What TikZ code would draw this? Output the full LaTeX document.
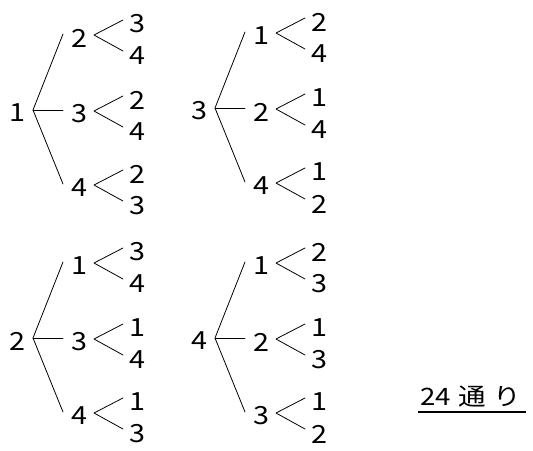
\documentclass[tikz,border=0pt]{standalone}
\usepackage{fontspec}
\setmainfont{Noto Sans CJK JP}[FakeStretch=1.15]
\usetikzlibrary{calc}
\tikzset{
  num/.style={inner sep=0pt, font=\fontsize{25}{25}\selectfont},
  br/.style={line width=0.8pt, line cap=round, line join=round}
}
% #1 name, #2 position, #3 label, #4 top leaf, #5 bottom leaf
\newcommand\mkfork[5]{%
  \node[num] (#1) at #2 {#3};
  \coordinate (#1v) at ($(#1)+(15,-3)$);
  \coordinate (#1u) at ($(#1v)+(29,-15)$);
  \coordinate (#1d) at ($(#1v)+(29,16)$);
  \node[num] (#1t) at ($(#1)+(58,-14)$) {#4};
  \node[num] (#1b) at ($(#1)+(58,18)$) {#5};
  \draw[br] (#1u) -- (#1v) -- (#1d);
  \coordinate (#1e) at ($(#1)+(-16,-4)$);
}
% #1 prefix, #2 origin, #3 root label
\newcommand\mkroot[3]{%
  \coordinate (#1o) at #2;
  \node[num] (#1r) at ($(#1o)+(-16,3)$) {#3};
}
\newcommand\mkbranches[1]{%
  \draw[br] (#1ae) -- (#1o) -- (#1ce);
  \draw[br] (#1o) -- (#1be);
}
\begin{document}
\begin{tikzpicture}[x=1pt,y=-1pt]
\useasboundingbox (0,0) rectangle (533,450);
% tree 1
\mkroot{A}{(33,110)}{1}
\mkfork{Aa}{($(Ao)+(46,-72)$)}{2}{3}{4}
\mkfork{Ab}{($(Ao)+(46,4)$)}{3}{2}{4}
\mkfork{Ac}{($(Ao)+(46,78)$)}{4}{2}{3}
\mkbranches{A}
% tree 2
\mkroot{B}{(215,108)}{3}
\mkfork{Ba}{($(Bo)+(46,-72)$)}{1}{2}{4}
\mkfork{Bb}{($(Bo)+(46,4)$)}{2}{1}{4}
\mkfork{Bc}{($(Bo)+(46,78)$)}{4}{1}{2}
\mkbranches{B}
% tree 3
\mkroot{C}{(33,338)}{2}
\mkfork{Ca}{($(Co)+(46,-72)$)}{1}{3}{4}
\mkfork{Cb}{($(Co)+(46,4)$)}{3}{1}{4}
\mkfork{Cc}{($(Co)+(46,78)$)}{4}{1}{3}
\mkbranches{C}
% tree 4
\mkroot{D}{(215,338)}{4}
\mkfork{Da}{($(Do)+(46,-72)$)}{1}{2}{3}
\mkfork{Db}{($(Do)+(46,4)$)}{2}{1}{3}
\mkfork{Dc}{($(Do)+(46,78)$)}{3}{1}{2}
\mkbranches{D}
% answer
\node[inner sep=0pt, font=\fontsize{24}{24}\selectfont, anchor=base] (ans) at (471,405) {24\hspace{7pt}通\hspace{8pt}り};
\coordinate (u1) at (418,412);
\coordinate (u2) at (526,412);
\draw[line width=2.2pt] (u1) -- (u2);
\end{tikzpicture}
\end{document}
